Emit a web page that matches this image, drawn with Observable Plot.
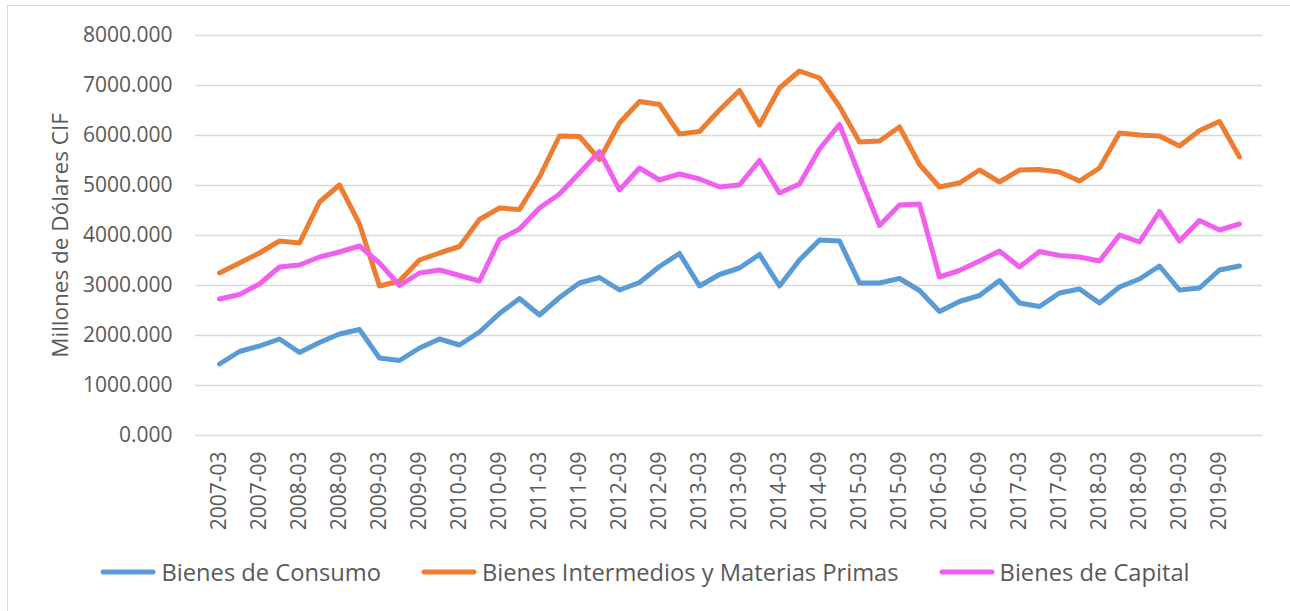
<!DOCTYPE html>
<html>
<head>
<meta charset="utf-8">
<script src="https://cdn.jsdelivr.net/npm/d3@7"></script>
<script src="https://cdn.jsdelivr.net/npm/@observablehq/plot@0.6"></script>
<style>
  html, body { margin: 0; padding: 0; background: #fff; }
  #wrap { position: relative; width: 1290px; height: 611px; overflow: hidden; font-family: "Open Sans", sans-serif; }
  #frame { position: absolute; left: 7px; top: 5px; width: 1300px; height: 700px; border-left: 1.5px solid #d9d9d9; border-top: 1.5px solid #d9d9d9; }
  #chart { position: absolute; left: 0; top: 0; }
  #legend { position: absolute; left: 0; top: 556px; width: 1290px; display: flex; justify-content: center; gap: 40px; color: #595959; font-size: 23.7px; }
  .item { display: flex; align-items: center; gap: 5px; }
  .item svg { display: block; }
</style>
</head>
<body>
<div id="wrap">
  <div id="frame"></div>
  <div id="chart"></div>
  <div id="legend"></div>
</div>
<script>
const quarters = [
  "2007-03","2007-06","2007-09","2007-12","2008-03","2008-06","2008-09","2008-12",
  "2009-03","2009-06","2009-09","2009-12","2010-03","2010-06","2010-09","2010-12",
  "2011-03","2011-06","2011-09","2011-12","2012-03","2012-06","2012-09","2012-12",
  "2013-03","2013-06","2013-09","2013-12","2014-03","2014-06","2014-09","2014-12",
  "2015-03","2015-06","2015-09","2015-12","2016-03","2016-06","2016-09","2016-12",
  "2017-03","2017-06","2017-09","2017-12","2018-03","2018-06","2018-09","2018-12",
  "2019-03","2019-06","2019-09","2019-12"
];
const tickLabels = [
  "2007-03","2007-09","2008-03","2008-09","2009-03","2009-09","2010-03","2010-09",
  "2011-03","2011-09","2012-03","2012-09","2013-03","2013-09","2014-03","2014-09",
  "2015-03","2015-09","2016-03","2016-09","2017-03","2017-09","2018-03","2018-09",
  "2019-03","2019-09"
];
const yTicks = [0, 1000, 2000, 3000, 4000, 5000, 6000, 7000, 8000];
const seriesNames = ["Bienes de Consumo", "Bienes Intermedios y Materias Primas", "Bienes de Capital"];
const seriesColors = ["#5B9BD5", "#ED7D31", "#F060EF"];

const consumo = [1430,1680,1790,1930,1660,1860,2030,2120,1550,1500,1750,1930,1810,2070,2440,2740,2410,2760,
  3050,3160,2910,3060,3380,3640,2990,3220,3350,3620,2990,3510,3910,3890,3050,3050,3140,
  2900,2480,2680,2800,3100,2650,2580,2850,2930,2650,2970,3130,3390,2910,2950,3310,3390];
const intermedios = [3250,3450,3650,3890,3850,4670,5010,4230,2990,3090,3510,3650,3780,4320,4550,4520,5170,5990,
  5980,5520,6250,6680,6620,6030,6080,6510,6900,6210,6950,7290,7150,6580,5870,5890,6170,
  5420,4970,5050,5310,5070,5310,5320,5270,5090,5350,6050,6010,5990,5790,6100,6280,5570];
const capital = [2730,2820,3030,3370,3410,3570,3670,3790,3450,3000,3250,3310,3200,3090,3920,4130,4550,4830,
  5250,5680,4910,5350,5110,5230,5130,4970,5010,5500,4850,5030,5730,6220,5200,4200,4610,
  4630,3170,3300,3490,3690,3370,3680,3600,3570,3490,4010,3870,4480,3890,4300,4110,4230];

const allSeries = [consumo, intermedios, capital];
const rows = [];
allSeries.forEach((vals, s) => vals.forEach((v, i) => rows.push({q: quarters[i], v, s: seriesNames[s]})));

const chart = Plot.plot({
  width: 1290,
  height: 545,
  marginLeft: 195,
  marginRight: 28,
  marginTop: 35,
  marginBottom: 110,
  style: {fontFamily: "'Open Sans', sans-serif", fontSize: "21px", color: "#595959", background: "transparent"},
  x: {type: "point", domain: quarters, padding: 0.5},
  y: {domain: [0, 8000]},
  color: {domain: seriesNames, range: seriesColors},
  marks: [
    Plot.gridY(yTicks, {stroke: "#d9d9d9", strokeOpacity: 1, strokeWidth: 1.5}),
    Plot.axisY(yTicks, {tickSize: 0, tickPadding: 23, tickFormat: d => d.toFixed(3), label: null, fontSize: 21}),
    Plot.axisX(tickLabels, {tickSize: 0, tickPadding: 16, tickRotate: -90, label: null, fontSize: 21}),
    Plot.text(["Millones de Dólares CIF"], {frameAnchor: "left", textAnchor: "middle", dx: -135, rotate: -90, fontSize: 22.5, fill: "#595959"}),
    Plot.lineY(rows, {x: "q", y: "v", z: "s", stroke: "s", strokeWidth: 5, strokeLinejoin: "round", strokeLinecap: "round"})
  ]
});
document.getElementById("chart").appendChild(chart);

const legend = document.getElementById("legend");
seriesNames.forEach((name, i) => {
  const item = document.createElement("div");
  item.className = "item";
  item.innerHTML = `<svg width="56" height="10"><line x1="3" y1="5" x2="53" y2="5" stroke="${seriesColors[i]}" stroke-width="5" stroke-linecap="round"/></svg><span>${name}</span>`;
  legend.appendChild(item);
});
</script>
</body>
</html>
